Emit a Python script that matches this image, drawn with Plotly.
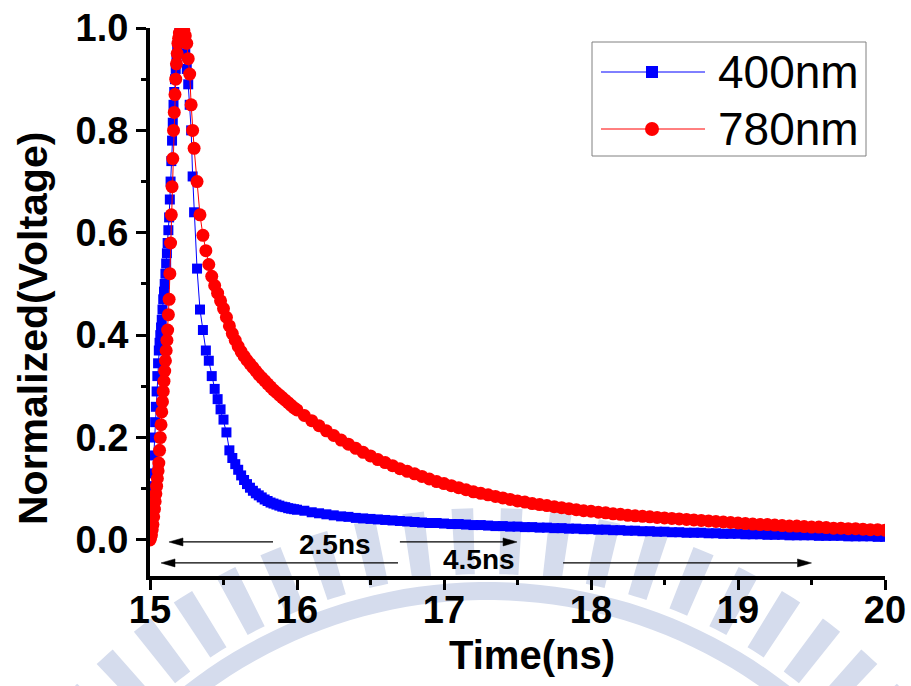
import numpy as np
import plotly.graph_objects as go

# ---- time axis (ns) ----
t_rise = [15.000, 15.005, 15.010, 15.015, 15.020, 15.025, 15.030, 15.035, 15.040, 15.045,
          15.050, 15.055, 15.060, 15.065, 15.070, 15.075, 15.080, 15.085, 15.090, 15.095,
          15.100, 15.105, 15.110, 15.115, 15.120, 15.125, 15.130, 15.135, 15.140, 15.145,
          15.150, 15.155, 15.160, 15.165, 15.170, 15.175, 15.180, 15.185, 15.190, 15.195,
          15.200]
t_peak = [15.21, 15.22, 15.23, 15.24, 15.25, 15.26, 15.27, 15.28, 15.29, 15.30]
t_mid = [15.32, 15.34, 15.36, 15.38, 15.40, 15.42, 15.44, 15.46, 15.48, 15.50,
         15.52, 15.54, 15.56, 15.58, 15.60, 15.62, 15.64, 15.66, 15.68, 15.70,
         15.72, 15.74, 15.76, 15.78, 15.80, 15.82, 15.84, 15.86, 15.88, 15.90,
         15.92, 15.94, 15.96, 15.98, 16.00]
t_tail = [16.05, 16.10, 16.15, 16.20, 16.25, 16.30, 16.35, 16.40, 16.45, 16.50,
          16.55, 16.60, 16.65, 16.70, 16.75, 16.80, 16.85, 16.90, 16.95, 17.00,
          17.05, 17.10, 17.15, 17.20, 17.25, 17.30, 17.35, 17.40, 17.45, 17.50,
          17.55, 17.60, 17.65, 17.70, 17.75, 17.80, 17.85, 17.90, 17.95, 18.00,
          18.05, 18.10, 18.15, 18.20, 18.25, 18.30, 18.35, 18.40, 18.45, 18.50,
          18.55, 18.60, 18.65, 18.70, 18.75, 18.80, 18.85, 18.90, 18.95, 19.00,
          19.05, 19.10, 19.15, 19.20, 19.25, 19.30, 19.35, 19.40, 19.45, 19.50,
          19.55, 19.60, 19.65, 19.70, 19.75, 19.80, 19.85, 19.90, 19.95, 20.00]
time_ns = t_rise + t_peak + t_mid + t_tail

# ---- normalized voltage, 400 nm ----
v400_rise = [0.02, 0.05, 0.08, 0.105, 0.13, 0.165, 0.20, 0.23, 0.26, 0.29,
             0.32, 0.345, 0.37, 0.385, 0.40, 0.415, 0.43, 0.45, 0.47, 0.485,
             0.50, 0.52, 0.54, 0.56, 0.58, 0.605, 0.63, 0.665, 0.70, 0.74,
             0.78, 0.815, 0.85, 0.875, 0.90, 0.92, 0.94, 0.955, 0.97, 0.98,
             0.99]
v400_peak = [1.00, 0.99, 0.97, 0.95, 0.92, 0.89, 0.85, 0.80, 0.71, 0.64]
v400_mid = [0.53, 0.45, 0.41, 0.37, 0.35, 0.32, 0.295, 0.275, 0.255, 0.235,
            0.21, 0.175, 0.16, 0.148, 0.137, 0.126, 0.117, 0.109, 0.102, 0.096,
            0.091, 0.087, 0.083, 0.079, 0.076, 0.073, 0.071, 0.069, 0.067, 0.065,
            0.064, 0.062, 0.061, 0.060, 0.059]
v400_tail = [0.057, 0.054, 0.052, 0.050, 0.048, 0.046, 0.045, 0.043, 0.042, 0.041,
             0.040, 0.039, 0.038, 0.037, 0.036, 0.035, 0.034, 0.033, 0.033, 0.032,
             0.031, 0.031, 0.030, 0.029, 0.029, 0.028, 0.027, 0.027, 0.026, 0.026,
             0.025, 0.025, 0.024, 0.024, 0.023, 0.023, 0.022, 0.022, 0.021, 0.021,
             0.020, 0.020, 0.019, 0.019, 0.018, 0.018, 0.017, 0.017, 0.016, 0.016,
             0.015, 0.015, 0.014, 0.014, 0.014, 0.013, 0.013, 0.012, 0.012, 0.012,
             0.011, 0.011, 0.011, 0.010, 0.010, 0.010, 0.009, 0.009, 0.009, 0.009,
             0.008, 0.008, 0.008, 0.008, 0.007, 0.007, 0.007, 0.007, 0.006, 0.006]
v_400 = v400_rise + v400_peak + v400_mid + v400_tail

# ---- normalized voltage, 780 nm ----
v780_rise = [0.00, 0.005, 0.01, 0.02, 0.03, 0.045, 0.06, 0.075, 0.09, 0.105,
             0.12, 0.135, 0.15, 0.175, 0.20, 0.225, 0.25, 0.27, 0.29, 0.31,
             0.33, 0.35, 0.37, 0.39, 0.41, 0.44, 0.47, 0.52, 0.58, 0.635,
             0.69, 0.745, 0.80, 0.835, 0.87, 0.90, 0.93, 0.95, 0.97, 0.98,
             0.99]
v780_peak = [1.00, 1.00, 0.995, 0.985, 0.97, 0.94, 0.91, 0.85, 0.80, 0.765]
v780_mid = [0.70, 0.635, 0.595, 0.565, 0.538, 0.515, 0.497, 0.482, 0.467, 0.452,
            0.435, 0.418, 0.403, 0.390, 0.378, 0.368, 0.359, 0.351, 0.344, 0.337,
            0.330, 0.323, 0.317, 0.311, 0.305, 0.299, 0.293, 0.288, 0.283, 0.278,
            0.273, 0.268, 0.263, 0.258, 0.254]
v780_tail = [0.243, 0.233, 0.223, 0.213, 0.204, 0.195, 0.187, 0.179, 0.171, 0.164,
             0.157, 0.151, 0.145, 0.139, 0.134, 0.129, 0.124, 0.119, 0.114, 0.110,
             0.106, 0.102, 0.098, 0.094, 0.091, 0.088, 0.085, 0.082, 0.079, 0.076,
             0.074, 0.071, 0.069, 0.067, 0.065, 0.063, 0.061, 0.059, 0.057, 0.056,
             0.054, 0.053, 0.051, 0.050, 0.048, 0.047, 0.046, 0.045, 0.044, 0.043,
             0.042, 0.041, 0.040, 0.039, 0.038, 0.037, 0.036, 0.035, 0.034, 0.033,
             0.032, 0.031, 0.030, 0.030, 0.029, 0.028, 0.027, 0.027, 0.026, 0.025,
             0.025, 0.024, 0.023, 0.023, 0.022, 0.022, 0.021, 0.020, 0.020, 0.019]
v_780 = v780_rise + v780_peak + v780_mid + v780_tail

series_names = ["400nm", "780nm"]
series_colors = ["#0000FF", "#FF0000"]

y_ticks = [0.0, 0.2, 0.4, 0.6, 0.8, 1.0]
y_ticklabels = ["0.0", "0.2", "0.4", "0.6", "0.8", "1.0"]

FONT = "Liberation Sans, Arial, sans-serif"

# figure geometry (pixels) used to place paper-anchored decorations
W, H = 911, 686
L, R, T, B = 150, 26, 28, 110
PW, PH = W - L - R, H - T - B


def px_to_paper(px, py):
    return (px - L) / PW, (H - B - py) / PH


fig = go.Figure()

fig.add_trace(go.Scatter(
    x=time_ns, y=v_400, name=series_names[0], mode="lines+markers",
    line=dict(color=series_colors[0], width=1),
    marker=dict(symbol="square", size=10, color=series_colors[0]),
    showlegend=False,
))
fig.add_trace(go.Scatter(
    x=time_ns, y=v_780, name=series_names[1], mode="lines+markers",
    line=dict(color=series_colors[1], width=1),
    marker=dict(symbol="circle", size=13, color=series_colors[1]),
    showlegend=False,
))

shapes = []
annotations = []

# faint seal watermark: a ring with radial bars, drawn beneath everything
wm_color = "rgb(213,220,237)"
cx, cy = 487, 1074


def arc_pts(r, a0, a1, n=80):
    a = np.radians(np.linspace(a0, a1, n))
    return [(cx + r * np.cos(t), cy - r * np.sin(t)) for t in a]


def poly_path(pts):
    pp = [px_to_paper(x, y) for x, y in pts]
    return "M " + " L ".join(f"{x:.5f},{y:.5f}" for x, y in pp) + " Z"


ring = arc_pts(492, 20, 160) + arc_pts(474, 160, 20)
shapes.append(dict(type="path", xref="paper", yref="paper", path=poly_path(ring),
                   fillcolor=wm_color, line=dict(width=0), layer="below"))
for ang in np.arange(22.5, 160, 5.0):
    bar = arc_pts(566, ang - 1.1, ang + 1.1, 4) + arc_pts(500, ang + 1.1, ang - 1.1, 4)
    shapes.append(dict(type="path", xref="paper", yref="paper", path=poly_path(bar),
                       fillcolor=wm_color, line=dict(width=0), layer="below"))

# double-headed span markers for the pulse widths
arrow_segments = [
    # (tail_x, head_x, y)
    (15.837, 15.129, -0.004),
    (16.700, 17.497, -0.004),
    (16.687, 15.075, -0.045),
    (17.810, 19.500, -0.045),
]
head_len = 14 / 147.0
head_half = 4 / 512.0
for tx, hx, yy in arrow_segments:
    d = 1 if hx > tx else -1
    base = hx - d * head_len
    shapes.append(dict(type="line", xref="x", yref="y", x0=tx, x1=base, y0=yy, y1=yy,
                       line=dict(color="black", width=1.2)))
    shapes.append(dict(type="path", xref="x", yref="y",
                       path=f"M {hx},{yy} L {base},{yy + head_half} L {base},{yy - head_half} Z",
                       fillcolor="black", line=dict(color="black", width=0.5)))

annotations += [
    dict(x=16.259, y=-0.0098, xref="x", yref="y", text="2.5ns", showarrow=False,
         font=dict(family=FONT, size=28, color="black", weight="bold")),
    dict(x=17.238, y=-0.039, xref="x", yref="y", text="4.5ns", showarrow=False,
         font=dict(family=FONT, size=28, color="black", weight="bold")),
]

# axis titles
tx_, ty_ = px_to_paper(532, 655)
annotations.append(dict(x=tx_, y=ty_, xref="paper", yref="paper", text="Time(ns)",
                        showarrow=False, xanchor="center", yanchor="middle",
                        font=dict(family=FONT, size=40, color="black", weight="bold")))
yx_, yy_ = px_to_paper(33, 329)
annotations.append(dict(x=yx_, y=yy_, xref="paper", yref="paper",
                        text="Normalized(Voltage)", textangle=-90, showarrow=False,
                        xanchor="center", yanchor="middle",
                        font=dict(family=FONT, size=41, color="black", weight="bold")))

# legend box with sample line + marker for each series
x0, y0 = px_to_paper(592, 42)
x1, y1 = px_to_paper(866, 156)
shapes.append(dict(type="rect", xref="paper", yref="paper", x0=x0, y0=y0, x1=x1, y1=y1,
                   fillcolor="white", line=dict(color="#808080", width=1)))
for i, (name, col) in enumerate(zip(series_names, series_colors)):
    row_y = 72 + i * 57
    lx0, ly = px_to_paper(601, row_y)
    lx1, _ = px_to_paper(705, row_y)
    shapes.append(dict(type="line", xref="paper", yref="paper", x0=lx0, x1=lx1, y0=ly, y1=ly,
                       line=dict(color=col, width=1)))
    half = 6 if i == 0 else 7
    mx0, my0 = px_to_paper(652 - half, row_y + half)
    mx1, my1 = px_to_paper(652 + half, row_y - half)
    shapes.append(dict(type="rect" if i == 0 else "circle", xref="paper", yref="paper",
                       x0=mx0, y0=my0, x1=mx1, y1=my1, fillcolor=col,
                       line=dict(color=col, width=0)))
    tx0, _ = px_to_paper(716, row_y)
    annotations.append(dict(x=tx0, y=ly, xref="paper", yref="paper", text=name,
                            showarrow=False, xanchor="left", yanchor="middle",
                            font=dict(family=FONT, size=46, color="black")))

tick_font = dict(family=FONT, size=38, color="black", weight="bold")

fig.update_layout(
    width=W, height=H,
    margin=dict(l=L, r=R, t=T, b=B, pad=0, autoexpand=False),
    paper_bgcolor="white", plot_bgcolor="rgba(0,0,0,0)",
    showlegend=False,
    shapes=shapes, annotations=annotations,
    xaxis=dict(range=[15, 20], tick0=15, dtick=1, ticks="outside", ticklen=10,
               tickwidth=3, tickcolor="black", showline=True, linewidth=4,
               linecolor="black", showgrid=False, zeroline=False, tickfont=tick_font,
               automargin=False, ticklabelstandoff=-13,
               minor=dict(ticks="outside", ticklen=5, tickwidth=3, dtick=0.5,
                          tickcolor="black", showgrid=False)),
    yaxis=dict(range=[-0.0705, 1.0], tickvals=y_ticks, ticktext=y_ticklabels,
               ticks="outside", ticklen=10, tickwidth=3, tickcolor="black",
               showline=True, linewidth=4, linecolor="black", showgrid=False,
               zeroline=False, tickfont=tick_font, automargin=False,
               minor=dict(ticks="outside", ticklen=5, tickwidth=3, dtick=0.1,
                          tick0=0, tickcolor="black", showgrid=False)),
    xaxis2=dict(overlaying="x", anchor="y", side="top", range=[15, 20], tick0=15,
                dtick=1, ticks="inside", ticklen=9, tickwidth=3, tickcolor="black",
                showline=True, linewidth=4, linecolor="black", showticklabels=False,
                showgrid=False, zeroline=False, automargin=False),
    yaxis2=dict(overlaying="y", anchor="x", side="right", range=[0, 1],
                tickvals=[0.2, 0.4, 0.6, 0.8], ticks="inside", ticklen=9,
                tickwidth=3, tickcolor="black", showline=True, linewidth=4,
                linecolor="black", showticklabels=False, showgrid=False,
                zeroline=False, automargin=False),
)

fig.write_html("out.html")
